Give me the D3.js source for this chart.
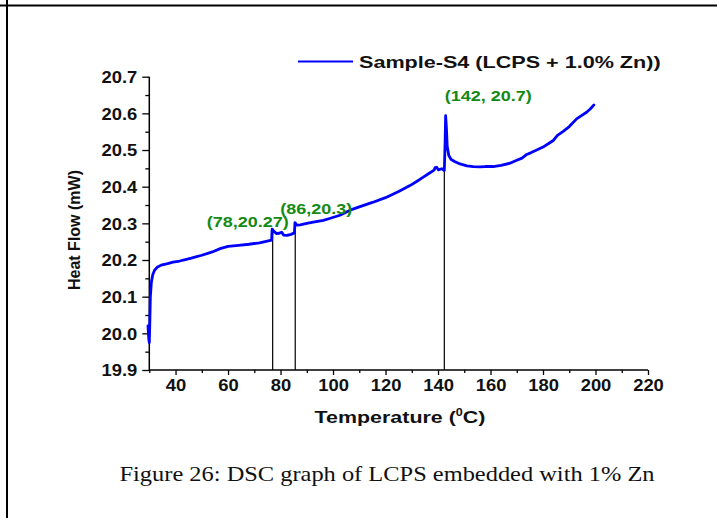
<!DOCTYPE html>
<html>
<head>
<meta charset="utf-8">
<script src="https://cdn.jsdelivr.net/npm/d3@7/dist/d3.min.js"></script>
<style>
  html, body { margin: 0; padding: 0; background: #fff; }
  svg { display: block; }
</style>
</head>
<body>
<svg id="chart" width="717" height="518"></svg>
<script>
// ---------------- data ----------------
const temperature = [29.5, 29.8, 30.0, 30.2, 30.4, 30.8, 31.3, 32, 33, 34.5, 37, 39, 41, 43, 46, 50, 54, 57, 60, 64, 68, 72, 76.6, 76.8, 77.5, 78.5, 79.5, 80.4, 81.2, 82.5, 84, 85.3, 85.5, 86.2, 87.5, 90, 93, 96.3, 99, 102.6, 106.5, 110, 115, 120, 125, 129.3, 132, 134.4, 136.5, 138.5, 138.9, 139.5, 140.1, 141.4, 142.4, 142.7, 142.9, 143.2, 143.5, 144.1, 145, 146.5, 148.4, 151, 153.4, 156, 158, 161, 164, 167.4, 170, 172, 173.8, 175.5, 177.6, 180, 182, 183.9, 185.5, 187.7, 190, 192.8, 194.5, 196.6, 198, 199.4];
const heatFlow = [20.02, 19.985, 19.975, 20.03, 20.1, 20.14, 20.16, 20.172, 20.18, 20.186, 20.19, 20.194, 20.196, 20.2, 20.205, 20.213, 20.222, 20.231, 20.237, 20.24, 20.243, 20.247, 20.254, 20.284, 20.278, 20.272, 20.273, 20.276, 20.268, 20.267, 20.27, 20.274, 20.302, 20.295, 20.296, 20.3, 20.304, 20.308, 20.314, 20.322, 20.336, 20.345, 20.357, 20.37, 20.387, 20.403, 20.415, 20.426, 20.436, 20.445, 20.452, 20.453, 20.446, 20.449, 20.444, 20.52, 20.594, 20.56, 20.51, 20.485, 20.474, 20.468, 20.462, 20.457, 20.455, 20.454, 20.455, 20.455, 20.458, 20.464, 20.472, 20.478, 20.488, 20.493, 20.5, 20.508, 20.517, 20.526, 20.54, 20.551, 20.564, 20.585, 20.593, 20.603, 20.612, 20.623];

const seriesName = "Sample-S4 (LCPS + 1.0% Zn))";
const xTicks = [40, 60, 80, 100, 120, 140, 160, 180, 200, 220];
const xMinorTicks = [30, 50, 70, 90, 110, 130, 150, 170, 190, 210];
const yTicks = [19.9, 20.0, 20.1, 20.2, 20.3, 20.4, 20.5, 20.6, 20.7];
const yMinorTicks = [19.95, 20.05, 20.15, 20.25, 20.35, 20.45, 20.55, 20.65];

// drop lines from peaks to the axis
const peakT = [77.0, 85.6, 142.4];
const peakV = [20.284, 20.302, 20.45];
const peakLabels = ["(78,20.27)", "(86,20.3)", "(142, 20.7)"];

const xTitle = "Temperature (";
const xTitleSup = "0";
const xTitleEnd = "C)";
const yTitle = "Heat Flow (mW)";
const caption = "Figure 26: DSC graph of LCPS embedded with 1% Zn";

// ---------------- drawing ----------------
const svg = d3.select("#chart");
const SANS = "Arial, 'Liberation Sans', Helvetica, sans-serif";
const SERIF = "'Times New Roman', 'Liberation Serif', Times, serif";

// page frame lines
svg.append("line").attr("x1", 0).attr("x2", 717).attr("y1", 5.5).attr("y2", 5.5)
  .attr("stroke", "#000").attr("stroke-width", 2);
svg.append("line").attr("x1", 7).attr("x2", 7).attr("y1", 0).attr("y2", 518)
  .attr("stroke", "#000").attr("stroke-width", 2);

const x = d3.scaleLinear().domain([30, 220]).range([149.3, 648]);
const y = d3.scaleLinear().domain([19.9, 20.7]).range([370, 76.7]);

const TICK_SX = 1.15;

// x axis major
const gx = svg.append("g").attr("transform", `translate(0,${y(19.9)})`);
gx.call(d3.axisBottom(x).tickValues(xTicks).tickSize(5).tickSizeOuter(0).tickFormat(d3.format("d")));
gx.select(".domain").remove();
gx.selectAll(".tick line").attr("stroke", "#000").attr("stroke-width", 1.3);
gx.selectAll(".tick text")
  .attr("y", 21).attr("dy", 0)
  .attr("transform", `scale(${TICK_SX},1)`)
  .style("font-family", SANS).style("font-weight", "bold").style("font-size", "16px").attr("fill", "#111");
const gxm = svg.append("g").attr("transform", `translate(0,${y(19.9)})`);
gxm.call(d3.axisBottom(x).tickValues(xMinorTicks).tickSize(3).tickSizeOuter(0).tickFormat(""));
gxm.select(".domain").remove();
gxm.selectAll(".tick line").attr("stroke", "#000").attr("stroke-width", 1.3);

// y axis major
const gy = svg.append("g").attr("transform", `translate(${x(30)},0)`);
gy.call(d3.axisLeft(y).tickValues(yTicks).tickSize(7).tickSizeOuter(0).tickFormat(d3.format(".1f")));
gy.select(".domain").remove();
gy.selectAll(".tick line").attr("stroke", "#000").attr("stroke-width", 1.3);
gy.selectAll(".tick text")
  .attr("x", -12 / TICK_SX).attr("dy", "0.36em")
  .attr("transform", `scale(${TICK_SX},1)`)
  .style("font-family", SANS).style("font-weight", "bold").style("font-size", "16px").attr("fill", "#111");
const gym = svg.append("g").attr("transform", `translate(${x(30)},0)`);
gym.call(d3.axisLeft(y).tickValues(yMinorTicks).tickSize(4).tickSizeOuter(0).tickFormat(""));
gym.select(".domain").remove();
gym.selectAll(".tick line").attr("stroke", "#000").attr("stroke-width", 1.3);

// axis lines
svg.append("line").attr("x1", x(30)).attr("x2", x(220)).attr("y1", y(19.9)).attr("y2", y(19.9))
  .attr("stroke", "#000").attr("stroke-width", 1.5);
svg.append("line").attr("x1", x(30)).attr("x2", x(30)).attr("y1", y(19.9)).attr("y2", y(20.7))
  .attr("stroke", "#000").attr("stroke-width", 1.5);

// drop lines
svg.append("g").selectAll("line").data(peakT).join("line")
  .attr("x1", d => x(d)).attr("x2", d => x(d))
  .attr("y1", (d, i) => y(peakV[i])).attr("y2", y(19.9))
  .attr("stroke", "#000").attr("stroke-width", 1.2);

// curve
const pts = temperature.map((t, i) => [t, heatFlow[i]]);
svg.append("path").datum(pts)
  .attr("d", d3.line().x(d => x(d[0])).y(d => y(d[1])))
  .attr("fill", "none").attr("stroke", "#0000ff").attr("stroke-width", 2.8)
  .attr("stroke-linejoin", "round").attr("stroke-linecap", "round");

// text helper (slightly horizontally stretched like the source)
function stext(px, py, txt, o) {
  const t = svg.append("text")
    .attr("transform", `translate(${px},${py}) scale(${o.sx || 1},1)`)
    .attr("text-anchor", o.anchor || "start")
    .style("font-family", o.family || SANS)
    .style("font-weight", o.weight || "bold")
    .style("font-size", o.size + "px")
    .attr("fill", o.fill || "#111")
    .text(txt);
  return t;
}

// peak labels
const labelLayout = [
  { dx: -25, dy: -2, anchor: "middle" },
  { dx: 21, dy: -9, anchor: "middle" },
  { dx: 0.5, dy: -3.5, anchor: "start" }
];
peakLabels.forEach((lab, i) => {
  const L = labelLayout[i];
  const py = i === 2 ? y(d3.max(heatFlow)) : y(peakV[i]);
  stext(x(peakT[i]) + L.dx, py + L.dy, lab, { size: 15, sx: 1.2, anchor: L.anchor, fill: "#138a13" });
});

// legend
svg.append("line").attr("x1", 298).attr("x2", 353).attr("y1", 61.5).attr("y2", 61.5)
  .attr("stroke", "#0000ff").attr("stroke-width", 2.2);
stext(359, 67.5, seriesName, { size: 17, sx: 1.27 });

// x title
const xt = stext(400, 423, "", { size: 17, sx: 1.26, anchor: "middle" });
xt.append("tspan").text(xTitle);
xt.append("tspan").attr("dy", -7).style("font-size", "10px").text(xTitleSup);
xt.append("tspan").attr("dy", 7).text(xTitleEnd);

// y title
svg.append("text")
  .attr("transform", `translate(80,230) rotate(-90)`)
  .attr("text-anchor", "middle")
  .style("font-family", SANS).style("font-weight", "bold").style("font-size", "16px")
  .attr("fill", "#111").text(yTitle);

// caption
stext(387, 481, caption, { size: 22, sx: 1.11, anchor: "middle", family: SERIF, weight: "normal" });
</script>
</body>
</html>
